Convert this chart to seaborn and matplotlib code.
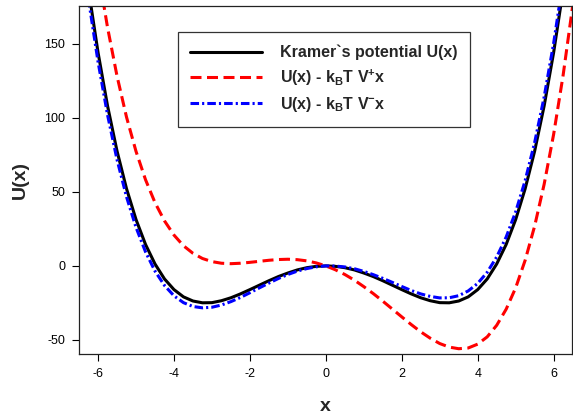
import matplotlib
matplotlib.use("Agg")
import matplotlib.pyplot as plt
import seaborn as sns

# x grid and the three curves
x = [-6.5, -6.25, -6.0, -5.75, -5.5, -5.25, -5.0, -4.75, -4.5, -4.25,
     -4.0, -3.75, -3.5, -3.25, -3.0, -2.75, -2.5, -2.25, -2.0, -1.75,
     -1.5, -1.25, -1.0, -0.75, -0.5, -0.25, 0.0, 0.25, 0.5, 0.75,
     1.0, 1.25, 1.5, 1.75, 2.0, 2.25, 2.5, 2.75, 3.0, 3.25,
     3.5, 3.75, 4.0, 4.25, 4.5, 4.75, 5.0, 5.25, 5.5, 5.75,
     6.0, 6.25, 6.5]

u_kramer = [235.0, 186.2, 144.0, 108.0, 77.5, 52.1, 31.3, 14.5, 1.3, -8.8,
            -16.0, -20.9, -23.7, -24.9, -24.8, -23.5, -21.5, -18.9, -16.0, -13.0,
            -10.0, -7.2, -4.8, -2.7, -1.2, -0.3, 0.0, -0.3, -1.2, -2.7,
            -4.8, -7.2, -10.0, -13.0, -16.0, -18.9, -21.5, -23.5, -24.8, -24.9,
            -23.7, -20.9, -16.0, -8.8, 1.3, 14.5, 31.3, 52.1, 77.5, 108.0,
            144.0, 186.2, 235.0]

u_plus = [294.8, 243.7, 199.2, 160.9, 128.1, 100.4, 77.3, 58.2, 42.7, 30.4,
          20.8, 13.6, 8.5, 5.0, 2.9, 1.8, 1.5, 1.8, 2.4, 3.1,
          3.8, 4.3, 4.5, 4.2, 3.4, 2.0, 0.0, -2.6, -5.8, -9.6,
          -14.0, -18.7, -23.8, -29.1, -34.4, -39.6, -44.5, -48.8, -52.4, -54.8,
          -55.9, -55.4, -52.8, -47.9, -40.1, -29.2, -14.8, 3.8, 26.9, 55.1,
          88.8, 128.7, 175.2]

u_minus = [228.2, 179.6, 137.7, 101.9, 71.7, 46.6, 26.0, 9.5, -3.5, -13.2,
           -20.2, -24.8, -27.4, -28.3, -27.9, -26.4, -24.1, -21.3, -18.1, -14.8,
           -11.6, -8.5, -5.8, -3.5, -1.8, -0.6, 0.0, -0.1, -0.7, -1.9,
           -3.7, -5.9, -8.4, -11.1, -13.9, -16.6, -18.9, -20.6, -21.6, -21.5,
           -20.1, -16.9, -11.8, -4.3, 6.0, 19.5, 36.5, 57.6, 83.3, 114.0,
           150.3, 192.7, 241.8]

labels = ["Kramer`s potential U(x)",
          r"U(x) - k$_\mathbf{B}$T V$^\mathbf{+}$x",
          r"U(x) - k$_\mathbf{B}$T V$^\mathbf{-}$x"]

sns.set_style("ticks")
plt.rcParams['font.family'] = ['Liberation Sans', 'DejaVu Sans']
plt.rcParams['axes.unicode_minus'] = False
plt.rcParams['mathtext.fontset'] = 'custom'
plt.rcParams['mathtext.rm'] = 'Liberation Sans:bold'
plt.rcParams['mathtext.bf'] = 'Liberation Sans:bold'
plt.rcParams['mathtext.it'] = 'Liberation Sans:bold'

fig = plt.figure(figsize=(5.73, 4.20), dpi=100)
ax = fig.add_axes([0.138, 0.157, 0.860, 0.829])

lw = 2.2
sns.lineplot(x=x, y=u_kramer, color="black", lw=lw, sort=False,
             label=labels[0], ax=ax)
sns.lineplot(x=x, y=u_plus, color="#ff0000", lw=lw, sort=False,
             linestyle=(0, (3.6, 1.8)), label=labels[1], ax=ax)
sns.lineplot(x=x, y=u_minus, color="#0000ff", lw=lw, sort=False,
             linestyle=(0, (2.8, 1.0, 0.7, 1.0)), label=labels[2], ax=ax)

ax.set_xlim(-6.5, 6.48)
ax.set_ylim(-59.5, 175.5)
ax.set_xticks([-6, -4, -2, 0, 2, 4, 6])
ax.set_yticks([-50, 0, 50, 100, 150])
ax.tick_params(direction="out", length=5, width=0.8, labelsize=9, pad=5,
               colors="black")
for s in ax.spines.values():
    s.set_linewidth(0.9)
    s.set_color("#222222")

ax.set_xlabel("x", fontsize=14, fontweight="bold", labelpad=13)
ax.set_ylabel("U(x)", fontsize=14, fontweight="bold", labelpad=11)

leg = ax.legend(loc="upper left", bbox_to_anchor=(0.2, 0.925),
                borderaxespad=0, frameon=True, fancybox=False,
                handlelength=4.5, handletextpad=1.1, labelspacing=0.45,
                borderpad=0.8, prop={"weight": "bold", "size": 11.5})
leg.get_frame().set_edgecolor("black")
leg.get_frame().set_linewidth(0.9)

plt.savefig("out.png", dpi=100)
